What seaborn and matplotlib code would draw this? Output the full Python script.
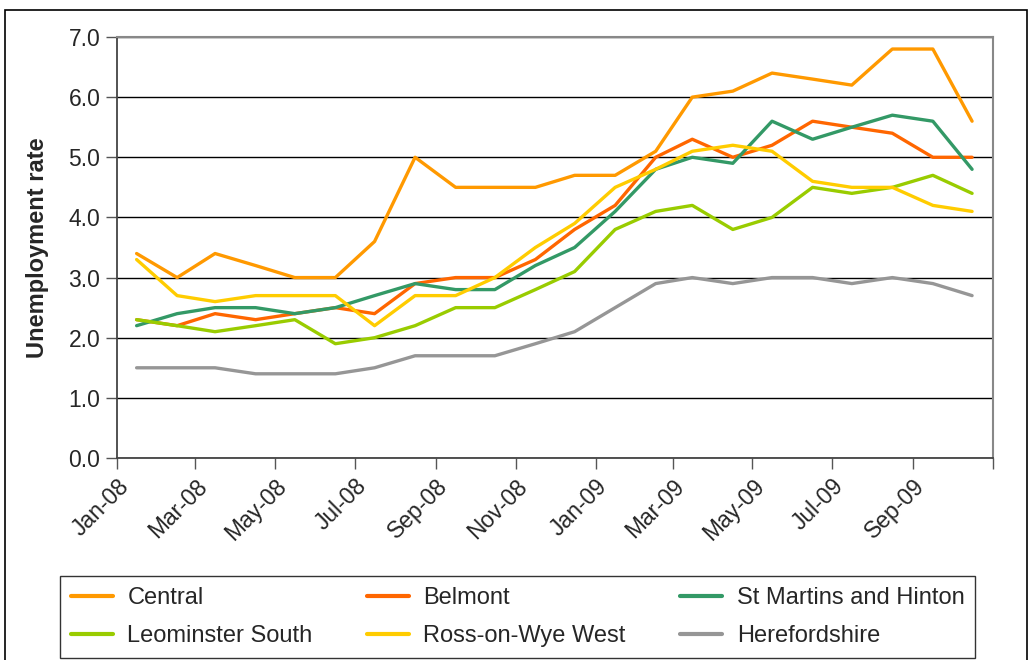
import pandas as pd
import numpy as np
import matplotlib
matplotlib.use("Agg")
import matplotlib.pyplot as plt
from matplotlib.patches import Rectangle
import seaborn as sns

# monthly figures, Jan-08 to Oct-09 (plotted mid-month)
months = pd.date_range("2008-01-01", periods=22, freq="MS") + pd.Timedelta(days=15)

central = [3.4, 3.0, 3.4, 3.2, 3.0, 3.0, 3.6, 5.0, 4.5, 4.5, 4.5, 4.7,
           4.7, 5.1, 6.0, 6.1, 6.4, 6.3, 6.2, 6.8, 6.8, 5.6]
belmont = [2.3, 2.2, 2.4, 2.3, 2.4, 2.5, 2.4, 2.9, 3.0, 3.0, 3.3, 3.8,
           4.2, 5.0, 5.3, 5.0, 5.2, 5.6, 5.5, 5.4, 5.0, 5.0]
st_martins = [2.2, 2.4, 2.5, 2.5, 2.4, 2.5, 2.7, 2.9, 2.8, 2.8, 3.2, 3.5,
              4.1, 4.8, 5.0, 4.9, 5.6, 5.3, 5.5, 5.7, 5.6, 4.8]
leominster = [2.3, 2.2, 2.1, 2.2, 2.3, 1.9, 2.0, 2.2, 2.5, 2.5, 2.8, 3.1,
              3.8, 4.1, 4.2, 3.8, 4.0, 4.5, 4.4, 4.5, 4.7, 4.4]
ross = [3.3, 2.7, 2.6, 2.7, 2.7, 2.7, 2.2, 2.7, 2.7, 3.0, 3.5, 3.9,
        4.5, 4.8, 5.1, 5.2, 5.1, 4.6, 4.5, 4.5, 4.2, 4.1]
herefordshire = [1.5, 1.5, 1.5, 1.4, 1.4, 1.4, 1.5, 1.7, 1.7, 1.7, 1.9, 2.1,
                 2.5, 2.9, 3.0, 2.9, 3.0, 3.0, 2.9, 3.0, 2.9, 2.7]

names = ["Central", "Belmont", "St Martins and Hinton",
         "Leominster South", "Ross-on-Wye West", "Herefordshire"]
colors = ["#FF9900", "#FF6600", "#339966", "#99CC00", "#FFCC00", "#969696"]
series = [central, belmont, st_martins, leominster, ross, herefordshire]

df = pd.concat([pd.DataFrame({"month": months, "rate": vals, "ward": name})
                for name, vals in zip(names, series)])

sns.set_style("white")
plt.rcParams["font.family"] = ["Liberation Sans", "DejaVu Sans"]

fig = plt.figure(figsize=(10.32, 6.6), dpi=100)
ax = fig.add_axes([117/1032, 1 - 458/660, (993 - 117)/1032, (458 - 37)/660])

sns.lineplot(data=df, x="month", y="rate", hue="ward", hue_order=names,
             palette=dict(zip(names, colors)), linewidth=2.4, ax=ax, legend=False)

ax.set_ylim(0, 7)
ax.set_yticks(np.arange(0, 7.1, 1))
ax.set_yticklabels([f"{v:.1f}" for v in np.arange(0, 7.1, 1)], fontsize=16.5)
ax.set_xlim(pd.Timestamp("2008-01-01"), pd.Timestamp("2009-11-01"))
ticks = pd.date_range("2008-01-01", "2009-11-01", freq="2MS")
ax.set_xticks(ticks)
ax.set_xticklabels([t.strftime("%b-%y") for t in ticks[:-1]] + [""],
                   rotation=45, ha="right", rotation_mode="anchor", fontsize=16.5)
ax.grid(axis="y", color="black", linewidth=1)
ax.set_axisbelow(True)
ax.tick_params(axis="both", direction="out", length=8, width=1, color="#555555",
               bottom=True, left=True, pad=4)
ax.set_xlabel("")
ax.set_ylabel("Unemployment rate", fontsize=17, fontweight="bold", labelpad=14)
for side in ["left", "bottom"]:
    ax.spines[side].set_color("#444444")
    ax.spines[side].set_linewidth(1.3)
for side in ["top", "right"]:
    ax.spines[side].set_color("#888888")
    ax.spines[side].set_linewidth(1.5)

# legend is laid out row-wise in the original, matplotlib fills columns
handles = [plt.Line2D([], [], color=c, linewidth=3) for c in colors]
order = [0, 3, 1, 4, 2, 5]
fig.legend([handles[i] for i in order], [names[i] for i in order], ncol=3,
           loc="lower left", bbox_to_anchor=(60/1032, 2/660, 915/1032, 83/660),
           mode="expand", fontsize=17, frameon=True, fancybox=False,
           edgecolor="black", handlelength=1.8, handletextpad=0.6,
           borderaxespad=0, borderpad=0.45, labelspacing=0.7)

fig.patches.append(Rectangle((5/1032, -0.05), 1022/1032, 1.05 - 10/660,
                             transform=fig.transFigure, fill=False,
                             edgecolor="black", linewidth=1.2))

fig.savefig("out.png", dpi=100)
